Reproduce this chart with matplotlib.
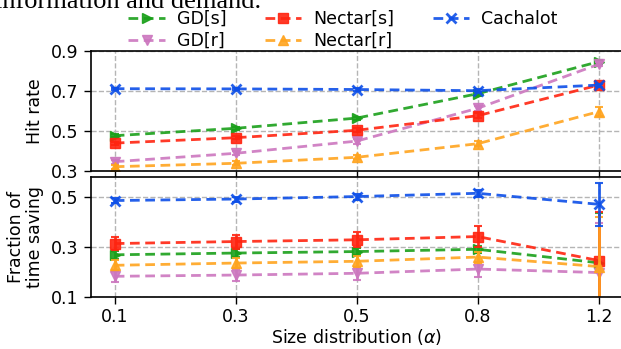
import matplotlib
matplotlib.use("Agg")
import matplotlib.pyplot as plt

# Categories (Zipf size-distribution parameter)
alphas = ["0.1", "0.3", "0.5", "0.8", "1.2"]

# Hit rate
hit_gd_s = [0.475, 0.512, 0.563, 0.685, 0.845]
hit_gd_r = [0.345, 0.387, 0.448, 0.612, 0.832]
hit_nec_s = [0.438, 0.465, 0.502, 0.575, 0.728]
hit_nec_r = [0.320, 0.337, 0.367, 0.435, 0.595]
hit_cach = [0.710, 0.709, 0.706, 0.700, 0.728]

hit_err_gd_s = [0.008, 0.008, 0.008, 0.010, 0.010]
hit_err_gd_r = [0.010, 0.010, 0.012, 0.012, 0.010]
hit_err_nec_s = [0.008, 0.008, 0.010, 0.012, 0.010]
hit_err_nec_r = [0.010, 0.010, 0.010, 0.012, 0.022]
hit_err_cach = [0.006, 0.006, 0.006, 0.008, 0.008]

# Fraction of time saving
sav_gd_s = [0.270, 0.277, 0.283, 0.292, 0.238]
sav_gd_r = [0.184, 0.189, 0.196, 0.213, 0.199]
sav_nec_s = [0.315, 0.323, 0.330, 0.343, 0.247]
sav_nec_r = [0.228, 0.237, 0.244, 0.261, 0.223]
sav_cach = [0.487, 0.493, 0.503, 0.516, 0.472]

sav_err_gd_s = [0.015, 0.015, 0.015, 0.015, 0.200]
sav_err_gd_r = [0.022, 0.025, 0.027, 0.030, 0.200]
sav_err_nec_s = [0.025, 0.028, 0.030, 0.043, 0.196]
sav_err_nec_r = [0.020, 0.020, 0.022, 0.022, 0.197]
sav_err_cach = [0.010, 0.010, 0.012, 0.013, 0.085]

series = [
    ("GD[s]", "#1aa01a", ">", hit_gd_s, hit_err_gd_s, sav_gd_s, sav_err_gd_s),
    ("GD[r]", "#cc77bf", "v", hit_gd_r, hit_err_gd_r, sav_gd_r, sav_err_gd_r),
    ("Nectar[s]", "#ff2410", "s", hit_nec_s, hit_err_nec_s, sav_nec_s, sav_err_nec_s),
    ("Nectar[r]", "#ffa41f", "^", hit_nec_r, hit_err_nec_r, sav_nec_r, sav_err_nec_r),
    ("Cachalot", "#0d4fe8", "x", hit_cach, hit_err_cach, sav_cach, sav_err_cach),
]

FS = 12.5
plt.rcParams["font.family"] = ["DejaVu Sans"]
plt.rcParams["font.size"] = FS

W, H = 621, 349
fig = plt.figure(figsize=(W / 100, H / 100), dpi=100)

left = 90.5 / W
width = 532.4 / W
ax1 = fig.add_axes([left, (H - 170.7) / H, width, 120 / H])
ax2 = fig.add_axes([left, (H - 297.3) / H, width, 120 / H])

xs = list(range(len(alphas)))

handles = []
for label, color, marker, hv, he, sv, se in series:
    for ax, vals, errs in ((ax1, hv, he), (ax2, sv, se)):
        ln, = ax.plot(xs, vals, linestyle="--", dashes=(3.5, 2.0), color=color,
                      lw=2, marker=marker, markersize=7,
                      mew=2 if marker == "x" else 1, alpha=0.9, label=label)
        ax.errorbar(xs, vals, yerr=errs, fmt="none", ecolor=color, elinewidth=2,
                    capsize=3, capthick=1.5, alpha=0.9)
        if ax is ax1:
            handles.append(ln)

for ax in (ax1, ax2):
    ax.set_xlim(-0.2, 4.2)
    ax.set_xticks(xs)
    ax.grid(True, linestyle="--", color="#b5b5b5", lw=1)
    ax.set_axisbelow(True)
    ax.tick_params(direction="out", length=5, width=1, labelsize=FS)
    for sp in ax.spines.values():
        sp.set_linewidth(1.2)

ax1.set_ylim(0.3, 0.9)
ax1.set_yticks([0.3, 0.5, 0.7, 0.9])
ax1.set_xticklabels([])
ax2.set_ylim(0.1, 0.58)
ax2.set_yticks([0.1, 0.3, 0.5])
ax2.set_xticklabels(alphas)
ax2.tick_params(axis="x", pad=2.5)

ax1.set_ylabel("Hit rate", fontsize=FS)
ax2.set_ylabel("Fraction of\ntime saving", fontsize=FS, linespacing=1.1)
ax1.yaxis.set_label_coords(-46 / 532.4, 0.5)
ax2.yaxis.set_label_coords(-46 / 532.4, 0.5)
ax2.set_xlabel(r"Size distribution ($\alpha$)", fontsize=FS, labelpad=1)

# legend fills column by column: GD pair, Nectar pair, Cachalot
fig.legend(handles, [s[0] for s in series],
           loc="center", bbox_to_anchor=(343 / W, 1 - 30 / H), ncol=3,
           frameon=False, fontsize=FS, handlelength=2.1, handletextpad=0.7,
           columnspacing=2.2, labelspacing=0.25, borderpad=0.0)

# caption line running off the top edge
fig.text(261 / W, 1 - 8 / H, "information and demand.", ha="right", va="baseline",
         fontsize=19, family=["Liberation Serif", "DejaVu Serif"])

fig.savefig("out.png", dpi=100)
